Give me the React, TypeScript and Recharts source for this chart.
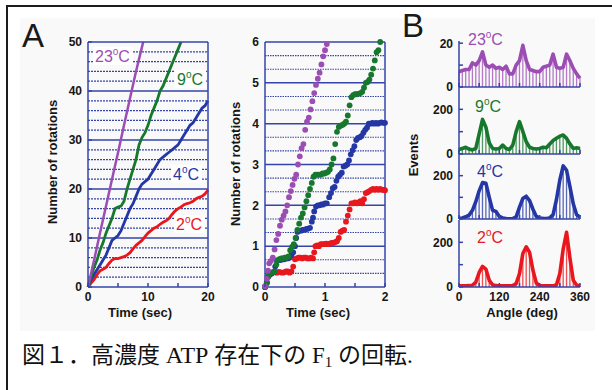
import React from 'react';
import { LineChart, Line, XAxis, YAxis, ReferenceLine, ScatterChart, Scatter, ComposedChart, Bar } from 'recharts';

const FONT = '"Liberation Sans", Arial, Helvetica, sans-serif';
const AXC = '#3444a8';
const C23 = '#9b4db4';
const C9 = '#17782d';
const C4 = '#2437a4';
const C2 = '#e8171e';

// ---------- Panel A (left): number of rotations vs time, 0–20 s ----------
const runA23: [number, number][] = [[0, 0], [1, 5.4], [2, 11], [3, 16.5], [4, 22], [5, 27.4], [6, 33], [7, 38.5], [8, 44], [9, 49], [9.2, 50]];
const runA9: [number, number][] = [[0, 0], [0.5, 2], [1, 4], [1.5, 5.5], [2, 7.5], [2.5, 9], [3, 11], [3.5, 12.5], [4, 14], [4.5, 16], [5, 16.3], [5.5, 16.5], [6, 17.5], [6.5, 20], [7, 22], [7.5, 24], [8, 26], [8.5, 29], [9, 30.5], [9.5, 31.5], [10, 33], [10.5, 35], [11, 36.5], [11.5, 38], [12, 40], [12.5, 41], [13, 42.5], [13.5, 44], [14, 45.5], [14.5, 47], [15, 48.5], [15.5, 50]];
const runA4: [number, number][] = [[0, 0], [0.5, 1.5], [1, 2.5], [1.5, 3.5], [2, 4.5], [2.5, 5.5], [3, 6.5], [3.5, 8], [4, 9.5], [4.5, 10], [5, 10.5], [5.5, 11.5], [6, 13], [6.5, 14.5], [7, 16], [7.5, 17], [8, 18.5], [8.5, 20], [9, 21], [9.5, 21.5], [10, 22], [10.5, 23], [11, 24], [11.5, 25], [12, 26], [12.5, 26.5], [13, 27], [13.5, 27.5], [14, 28], [14.5, 28.5], [15, 29], [15.5, 30], [16, 31], [16.5, 32], [17, 33], [17.5, 33.5], [18, 34.5], [18.5, 35.5], [19, 36.5], [19.5, 37], [20, 38]];
const runA2: [number, number][] = [[0, 0], [0.5, 0.8], [1, 1.5], [1.5, 2.5], [2, 3.3], [2.5, 3.6], [3, 4], [3.5, 4.8], [4, 5.5], [4.5, 5.8], [5, 5.8], [5.5, 6], [6, 6.2], [6.5, 6.5], [7, 7], [7.5, 7.8], [8, 8.5], [8.5, 9], [9, 9.5], [9.5, 10.3], [10, 11], [10.5, 11.5], [11, 12], [11.5, 12.3], [12, 12.8], [12.5, 13.2], [13, 13.5], [13.5, 14], [14, 14.8], [14.5, 15.5], [15, 16], [15.5, 16.3], [16, 16.8], [16.5, 17], [17, 17.2], [17.5, 17.5], [18, 18], [18.5, 18.3], [19, 18.5], [19.5, 19], [20, 19.8]];
const ticksA_x = [0, 5, 10, 15, 20];
const labelsA_x = [0, 10, 20];
const ticksA_y = [0, 10, 20, 30, 40, 50];
const gridA = [2, 4, 6, 8, 12, 14, 16, 18, 22, 24, 26, 28, 32, 34, 36, 38, 42, 44, 46, 48];
const gridA_major = [10, 20, 30, 40];

// ---------- Panel A (right): 0–2 s ----------
const runM23: [number, number][] = [[0, 0.02], [0.03, 0.2], [0.05, 0.4], [0.07, 0.58], [0.1, 0.64], [0.13, 0.72], [0.16, 0.92], [0.19, 1.15], [0.22, 1.3], [0.25, 1.5], [0.28, 1.65], [0.31, 1.75], [0.34, 1.85], [0.37, 2.0], [0.4, 2.2], [0.43, 2.35], [0.46, 2.5], [0.49, 2.65], [0.52, 2.75], [0.55, 3.0], [0.58, 3.2], [0.61, 3.4], [0.64, 3.5], [0.67, 3.85], [0.7, 4.05], [0.73, 4.15], [0.76, 4.35], [0.79, 4.55], [0.82, 4.75], [0.85, 4.95], [0.88, 5.1], [0.91, 5.25], [0.94, 5.45], [0.97, 5.65], [1.0, 5.8], [1.03, 5.95]];
const runM9: [number, number][] = [[0, 0], [0.03, 0.1], [0.05, 0.25], [0.07, 0.32], [0.1, 0.35], [0.13, 0.36], [0.16, 0.38], [0.19, 0.55], [0.21, 0.66], [0.24, 0.68], [0.27, 0.7], [0.3, 0.7], [0.33, 0.72], [0.36, 0.72], [0.39, 0.75], [0.42, 0.9], [0.45, 0.98], [0.48, 1.05], [0.51, 1.2], [0.54, 1.4], [0.57, 1.55], [0.6, 1.7], [0.63, 1.8], [0.66, 1.95], [0.69, 2.1], [0.72, 2.25], [0.75, 2.4], [0.78, 2.55], [0.81, 2.7], [0.84, 2.75], [0.87, 2.75], [0.9, 2.75], [0.93, 2.75], [0.96, 2.78], [0.99, 2.78], [1.02, 2.8], [1.05, 2.82], [1.08, 2.88], [1.11, 3.0], [1.14, 3.15], [1.17, 3.5], [1.2, 3.8], [1.23, 3.92], [1.26, 3.95], [1.29, 3.97], [1.32, 4.0], [1.35, 4.05], [1.38, 4.2], [1.41, 4.45], [1.44, 4.65], [1.47, 4.7], [1.5, 4.72], [1.53, 4.72], [1.56, 4.73], [1.59, 4.75], [1.62, 4.78], [1.65, 4.88], [1.68, 5.0], [1.71, 5.02], [1.74, 5.08], [1.77, 5.2], [1.8, 5.35], [1.83, 5.55], [1.86, 5.75], [1.89, 5.8], [1.92, 6.0]];
const runM4: [number, number][] = [[0, 0], [0.03, 0.12], [0.05, 0.25], [0.08, 0.3], [0.11, 0.33], [0.14, 0.36], [0.17, 0.5], [0.2, 0.64], [0.23, 0.66], [0.26, 0.66], [0.29, 0.68], [0.32, 0.68], [0.35, 0.7], [0.38, 0.7], [0.41, 0.72], [0.44, 0.78], [0.47, 0.85], [0.5, 1.0], [0.52, 1.2], [0.54, 1.35], [0.57, 1.38], [0.6, 1.38], [0.63, 1.4], [0.66, 1.4], [0.69, 1.42], [0.72, 1.43], [0.75, 1.45], [0.78, 1.6], [0.8, 1.7], [0.82, 1.85], [0.85, 1.97], [0.88, 2.0], [0.91, 2.0], [0.94, 2.02], [0.97, 2.02], [1.0, 2.05], [1.03, 2.05], [1.07, 2.2], [1.1, 2.3], [1.13, 2.42], [1.16, 2.45], [1.19, 2.6], [1.22, 2.7], [1.25, 2.75], [1.28, 2.8], [1.31, 2.95], [1.34, 2.97], [1.37, 3.0], [1.4, 3.1], [1.43, 3.25], [1.46, 3.35], [1.49, 3.45], [1.52, 3.6], [1.55, 3.65], [1.58, 3.67], [1.61, 3.7], [1.64, 3.78], [1.67, 3.85], [1.7, 3.9], [1.73, 4.0], [1.76, 4.0], [1.79, 4.02], [1.82, 4.0], [1.85, 4.02], [1.88, 4.0], [1.91, 4.02], [1.94, 4.03], [1.97, 4.02], [2.0, 4.02]];
const runM2: [number, number][] = [[0, 0], [0.03, 0.1], [0.05, 0.25], [0.08, 0.32], [0.11, 0.35], [0.14, 0.36], [0.17, 0.36], [0.2, 0.35], [0.23, 0.37], [0.26, 0.36], [0.29, 0.35], [0.32, 0.36], [0.35, 0.38], [0.38, 0.38], [0.41, 0.35], [0.44, 0.38], [0.47, 0.5], [0.5, 0.68], [0.53, 0.7], [0.56, 0.72], [0.59, 0.72], [0.62, 0.7], [0.65, 0.72], [0.68, 0.72], [0.71, 0.7], [0.74, 0.7], [0.77, 0.72], [0.8, 0.7], [0.82, 0.85], [0.84, 1.0], [0.87, 1.02], [0.9, 1.0], [0.93, 1.05], [0.96, 1.05], [0.99, 1.05], [1.02, 1.06], [1.05, 1.05], [1.08, 1.06], [1.11, 1.08], [1.14, 1.08], [1.17, 1.1], [1.2, 1.12], [1.23, 1.2], [1.26, 1.35], [1.29, 1.38], [1.32, 1.4], [1.35, 1.6], [1.38, 1.75], [1.41, 1.9], [1.44, 2.05], [1.47, 2.05], [1.5, 2.07], [1.53, 2.05], [1.56, 2.07], [1.59, 2.1], [1.62, 2.05], [1.65, 2.15], [1.68, 2.3], [1.71, 2.32], [1.74, 2.35], [1.77, 2.38], [1.8, 2.4], [1.83, 2.38], [1.86, 2.4], [1.89, 2.38], [1.92, 2.4], [1.95, 2.38], [1.98, 2.38], [2.0, 2.37]];
const ticksM_x = [0, 0.5, 1, 1.5, 2];
const labelsM_x = [0, 1, 2];
const ticksM_y = [0, 1, 2, 3, 4, 5, 6];
const gridM_minor = [1 / 3, 2 / 3, 4 / 3, 5 / 3, 7 / 3, 8 / 3, 10 / 3, 11 / 3, 13 / 3, 14 / 3, 16 / 3, 17 / 3];
const gridM_major = [1, 2, 3, 4, 5];

// ---------- Panel B: angle histograms ----------
const angles = [0, 10, 20, 30, 40, 50, 60, 70, 80, 90, 100, 110, 120, 130, 140, 150, 160, 170, 180, 190, 200, 210, 220, 230, 240, 250, 260, 270, 280, 290, 300, 310, 320, 330, 340, 350, 360];
const ev23 = [7, 7.5, 8, 8, 11, 10, 12, 16, 10, 9, 10, 8.5, 9, 8, 9.5, 6, 6, 10, 12, 19, 12, 8, 7.5, 7, 7, 9, 9.5, 10, 15, 9, 8.5, 9, 15, 12, 8.5, 6, 4];
const ev9 = [20, 25, 30, 22, 18, 25, 90, 155, 120, 50, 25, 22, 25, 40, 25, 20, 40, 100, 145, 100, 55, 30, 25, 22, 25, 30, 28, 45, 60, 70, 80, 85, 70, 45, 25, 28, 25];
const ev4 = [3, 5, 10, 18, 40, 80, 130, 168, 165, 100, 40, 35, 12, 5, 2, 1, 2, 10, 55, 95, 105, 85, 45, 12, 5, 3, 2, 5, 20, 90, 180, 245, 225, 150, 70, 20, 8];
const ev2 = [5, 5, 5, 6, 8, 22, 65, 92, 80, 30, 10, 6, 5, 5, 5, 5, 6, 15, 60, 150, 180, 155, 75, 18, 6, 5, 5, 5, 5, 10, 60, 170, 245, 130, 30, 8, 5];
const ticksB_x = [0, 60, 120, 180, 240, 300, 360];
const labelsB_x = [0, 120, 240, 360];

const pts = (arr: [number, number][]) => arr.map(([t, n]) => ({ t, n }));
const hist = (vals: number[]) => angles.map((a, i) => ({ a, v: vals[i] }));

type TickCfg = { side: 'bottom' | 'left' | 'top'; labels: number[]; len?: number; margin?: number };
function makeTick(cfg: TickCfg) {
  const len = cfg.len ?? 4;
  const m = cfg.margin ?? 0;
  return (p: any) => {
    const { x, y, payload } = p;
    const v = payload.value;
    const show = cfg.labels.some((l) => Math.abs(l - v) < 1e-6);
    if (cfg.side === 'bottom') {
      const ay = y - m;
      return (
        <g>
          <line x1={x} x2={x} y1={ay} y2={ay - len} stroke={AXC} strokeWidth={1.5} />
          {show && (
            <text x={x} y={y} dy="0.72em" textAnchor="middle" fontFamily={FONT} fontWeight="bold" fontSize={12} fill="#161616">
              {String(v)}
            </text>
          )}
        </g>
      );
    }
    if (cfg.side === 'top') {
      const ay = y + m;
      return <line x1={x} x2={x} y1={ay} y2={ay + len} stroke={AXC} strokeWidth={1.5} />;
    }
    const ax = x + m;
    return (
      <g>
        <line x1={ax} x2={ax + len} y1={y} y2={y} stroke={AXC} strokeWidth={1.5} />
        {show && (
          <text x={x} y={y} dy="0.36em" textAnchor="end" fontFamily={FONT} fontWeight="bold" fontSize={12} fill="#161616">
            {String(v)}
          </text>
        )}
      </g>
    );
  };
}

const axisLine = { stroke: AXC, strokeWidth: 1.5 };
const layer: React.CSSProperties = { position: 'absolute', left: 0, top: 0 };

function PanelA() {
  return (
    <LineChart width={612} height={390} margin={{ top: 41, right: 403, bottom: 83, left: 58 }}>
      <XAxis xAxisId="xb" type="number" dataKey="t" domain={[0, 20]} ticks={ticksA_x} interval={0} height={20} axisLine={axisLine} tickLine={false} tickSize={0} tickMargin={5} tick={makeTick({ side: 'bottom', labels: labelsA_x, margin: 5 })} />
      <XAxis xAxisId="xt" orientation="top" type="number" dataKey="t" domain={[0, 20]} ticks={[5, 10, 15]} interval={0} height={1} axisLine={axisLine} tickLine={false} tickSize={0} tickMargin={0} tick={makeTick({ side: 'top', labels: [] })} />
      <YAxis yAxisId="yl" type="number" domain={[0, 50]} ticks={ticksA_y} interval={0} width={30} allowDataOverflow axisLine={axisLine} tickLine={false} tickSize={0} tickMargin={6} tick={makeTick({ side: 'left', labels: ticksA_y, margin: 6 })} />
      <YAxis yAxisId="yr" orientation="right" type="number" domain={[0, 50]} width={1} axisLine={axisLine} tick={false} tickLine={false} />
      {gridA.map((v) => (
        <ReferenceLine key={'g' + v} xAxisId="xb" yAxisId="yl" y={v} stroke={AXC} strokeWidth={1.2} strokeDasharray="2 1" />
      ))}
      {gridA_major.map((v) => (
        <ReferenceLine key={'G' + v} xAxisId="xb" yAxisId="yl" y={v} stroke={AXC} strokeWidth={1.3} />
      ))}
      <Line xAxisId="xb" yAxisId="yl" data={pts(runA2)} dataKey="n" stroke={C2} strokeWidth={2.8} dot={false} isAnimationActive={false} />
      <Line xAxisId="xb" yAxisId="yl" data={pts(runA4)} dataKey="n" stroke={C4} strokeWidth={2.8} dot={false} isAnimationActive={false} />
      <Line xAxisId="xb" yAxisId="yl" data={pts(runA9)} dataKey="n" stroke={C9} strokeWidth={2.8} dot={false} isAnimationActive={false} />
      <Line xAxisId="xb" yAxisId="yl" data={pts(runA23)} dataKey="n" stroke={C23} strokeWidth={2.5} dot={false} isAnimationActive={false} />
    </LineChart>
  );
}

const dotShape = (p: any) => <circle cx={p.cx} cy={p.cy} r={2.9} fill={p.fill} />;

function PanelM() {
  return (
    <ScatterChart width={612} height={390} margin={{ top: 41, right: 226, bottom: 83, left: 235 }}>
      <XAxis xAxisId="xb" type="number" dataKey="t" domain={[0, 2]} ticks={ticksM_x} interval={0} height={20} axisLine={axisLine} tickLine={false} tickSize={0} tickMargin={5} tick={makeTick({ side: 'bottom', labels: labelsM_x, margin: 5 })} />
      <XAxis xAxisId="xt" orientation="top" type="number" dataKey="t" domain={[0, 2]} ticks={[0.5, 1, 1.5]} interval={0} height={1} axisLine={axisLine} tickLine={false} tickSize={0} tickMargin={0} tick={makeTick({ side: 'top', labels: [] })} />
      <YAxis yAxisId="yl" type="number" dataKey="n" domain={[0, 6]} ticks={ticksM_y} interval={0} width={30} axisLine={axisLine} tickLine={false} tickSize={0} tickMargin={6} tick={makeTick({ side: 'left', labels: ticksM_y, margin: 6, len: 0 })} />
      <YAxis yAxisId="yr" orientation="right" type="number" dataKey="n" domain={[0, 6]} width={1} axisLine={axisLine} tick={false} tickLine={false} />
      {gridM_minor.map((v, i) => (
        <ReferenceLine key={'m' + i} xAxisId="xb" yAxisId="yl" y={v} stroke={AXC} strokeWidth={1.1} strokeDasharray="1.5 1" />
      ))}
      {gridM_major.map((v) => (
        <ReferenceLine key={'M' + v} xAxisId="xb" yAxisId="yl" y={v} stroke={AXC} strokeWidth={1.5} />
      ))}
      <Scatter xAxisId="xb" yAxisId="yl" data={pts(runM2)} fill={C2} shape={dotShape} isAnimationActive={false} />
      <Scatter xAxisId="xb" yAxisId="yl" data={pts(runM4)} fill={C4} shape={dotShape} isAnimationActive={false} />
      <Scatter xAxisId="xb" yAxisId="yl" data={pts(runM9)} fill={C9} shape={dotShape} isAnimationActive={false} />
      <Scatter xAxisId="xb" yAxisId="yl" data={pts(runM23)} fill={C23} shape={dotShape} isAnimationActive={false} />
    </ScatterChart>
  );
}

type HistProps = { vals: number[]; color: string; top: number; bottom: number; max: number; yTicks: number[]; yLabels: number[]; xLabels: number[] };
function Hist({ vals, color, top, bottom, max, yTicks, yLabels, xLabels }: HistProps) {
  return (
    <ComposedChart width={612} height={390} data={hist(vals)} margin={{ top, right: 32, bottom, left: 429 }}>
      <XAxis type="number" dataKey="a" domain={[0, 360]} ticks={ticksB_x} interval={0} height={20} axisLine={axisLine} tickLine={false} tickSize={0} tickMargin={5} tick={makeTick({ side: 'bottom', labels: xLabels, margin: 5 })} />
      <YAxis type="number" domain={[0, max]} ticks={yTicks} interval={0} width={30} allowDataOverflow axisLine={axisLine} tickLine={false} tickSize={0} tickMargin={6} tick={makeTick({ side: 'left', labels: yLabels, margin: 6 })} />
      <Bar dataKey="v" barSize={1.3} fill={color} fillOpacity={0.75} isAnimationActive={false} />
      <Line dataKey="v" type="linear" stroke={color} strokeWidth={3.6} strokeLinejoin="round" dot={false} isAnimationActive={false} />
    </ComposedChart>
  );
}

const Temp = ({ x, y, n, color, bg }: { x: number; y: number; n: string; color: string; bg?: boolean }) => (
  <g>
    {bg && <rect x={x - 2} y={y - 15} width={n.length * 9 + 22} height={18} fill="#ffffff" />}
    <text x={x} y={y} fontFamily={FONT} fontSize={16} fill={color}>
      {n}
      <tspan fontSize={10} dy={-7}>o</tspan>
      <tspan dy={7}>C</tspan>
    </text>
  </g>
);

export default function App() {
  const titleStyle = { fontFamily: FONT, fontWeight: 'bold' as const, fontSize: 13, fill: '#161616' };
  return (
    <div style={{ position: 'absolute', left: 0, top: 0, width: 612, height: 390, background: '#ffffff', overflow: 'hidden' }}>
      <div style={{ position: 'absolute', left: 20, top: 18, width: 575, height: 313, background: '#f9f9f9' }} />
      <div style={{ position: 'absolute', left: 6, top: 5, right: 0, bottom: 0, borderLeft: '2px solid #1c1c1c', borderTop: '2px solid #1c1c1c' }} />
      <div style={layer}><PanelA /></div>
      <div style={layer}><PanelM /></div>
      <div style={layer}><Hist vals={ev23} color={C23} top={41} bottom={283} max={21} yTicks={[0, 10, 20]} yLabels={[0, 20]} xLabels={[]} /></div>
      <div style={layer}><Hist vals={ev9} color={C9} top={87} bottom={216} max={300} yTicks={[0, 100, 200]} yLabels={[0, 200]} xLabels={[]} /></div>
      <div style={layer}><Hist vals={ev4} color={C4} top={154} bottom={151} max={300} yTicks={[0, 100, 200]} yLabels={[0, 200]} xLabels={[]} /></div>
      <div style={layer}><Hist vals={ev2} color={C2} top={220} bottom={83} max={300} yTicks={[0, 100, 200]} yLabels={[0, 200]} xLabels={labelsB_x} /></div>
      <svg style={{ ...layer, pointerEvents: 'none' }} width={612} height={390}>
        <text x={22} y={47} fontFamily={FONT} fontSize={33} fill="#1a1a1a">A</text>
        <text x={402} y={37} fontFamily={FONT} fontSize={33} fill="#1a1a1a">B</text>
        <Temp x={95} y={62} n="23" color={C23} bg />
        <Temp x={177} y={85} n="9" color={C9} bg />
        <Temp x={173} y={180} n="4" color={C4} bg />
        <Temp x={176} y={230} n="2" color={C2} bg />
        <Temp x={468} y={45} n="23" color={C23} />
        <Temp x={475} y={112} n="9" color={C9} />
        <Temp x={477} y={177} n="4" color={C4} />
        <Temp x={477} y={243} n="2" color={C2} />
        <text transform="translate(57,162) rotate(-90)" textAnchor="middle" {...titleStyle}>Number of rotations</text>
        <text transform="translate(240,164) rotate(-90)" textAnchor="middle" {...titleStyle}>Number of rotations</text>
        <text transform="translate(418,155) rotate(-90)" textAnchor="middle" {...titleStyle}>Events</text>
        <text x={140} y={317} textAnchor="middle" {...titleStyle}>Time (sec)</text>
        <text x={318} y={317} textAnchor="middle" {...titleStyle}>Time (sec)</text>
        <text x={522} y={317} textAnchor="middle" {...titleStyle}>Angle (deg)</text>
        <text x={22} y={363} fontFamily={'"Liberation Serif", "Noto Sans CJK JP", serif'} fontSize={23} fill="#111">
          図１．高濃度 <tspan fontSize={24}>ATP</tspan> 存在下の F<tspan fontSize={15} dy={4}>1</tspan><tspan dy={-4}> の回転.</tspan>
        </text>
      </svg>
    </div>
  );
}
